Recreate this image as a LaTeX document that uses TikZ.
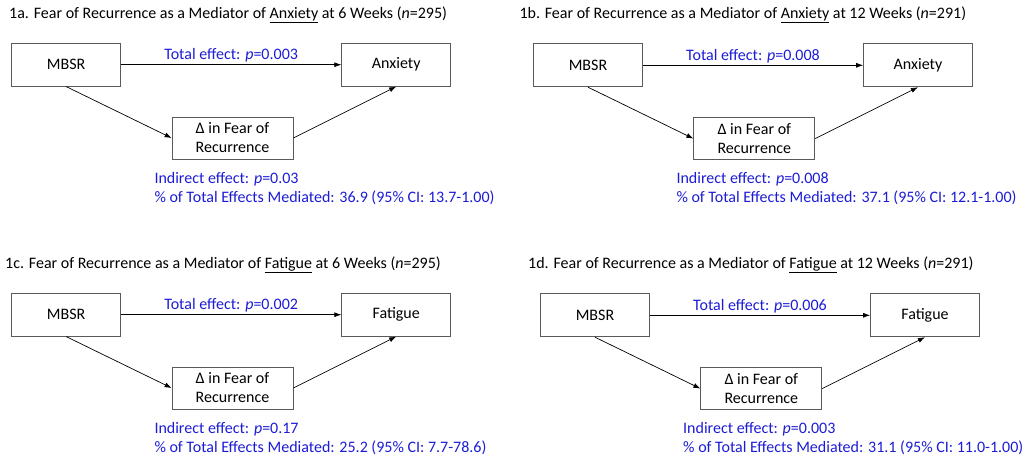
\documentclass[tikz,border=0pt]{standalone}
\usepackage{fontspec}
\setmainfont{Carlito}
\usetikzlibrary{arrows.meta}
\definecolor{effblue}{RGB}{28,28,214}
\definecolor{boxgray}{RGB}{90,90,90}
\tikzset{
  box/.style={draw=boxgray, line width=0.8pt, inner sep=0pt, align=center,
    minimum width=109pt, minimum height=43pt, font=\fontsize{16}{19}\selectfont},
  medbox/.style={box, minimum width=121pt, minimum height=42pt},
  link/.style={line width=0.7pt, -{Latex[length=7pt,width=5pt]}},
  efftext/.style={text=effblue, inner sep=0pt, align=left, font=\fontsize{16}{19}\selectfont},
  headtext/.style={inner sep=0pt, anchor=west, font=\fontsize{16}{19}\selectfont}
}
% one mediation diagram: shift x, shift y, prefix, outcome, total p
\newcommand{\drawpanel}[5]{
  \node[box] (#3src) at (#1+66.2, #2+64.7) {MBSR};
  \node[box] (#3out) at (#1+396.2, #2+64.7) {#4};
  \node[medbox] (#3med) at (#1+232.5, #2+138) {Δ in Fear of\\Recurrence};
  \draw[link] (#3src) -- node[efftext, above=2pt] {Total effect: \textit{p}=#5} (#3out);
  \draw[link] (#3src.south) -- (#3med.west);
  \draw[link] (#3med.east) -- (#3out.south);
}
\newcommand{\drawnote}[5]{
  \node[efftext, anchor=west] (#3) at (#1, #2) {Indirect effect: \textit{p}=#4\\\% of Total Effects Mediated: #5};
}

\begin{document}
\begin{tikzpicture}[x=1pt, y=-1pt]
  \useasboundingbox (0,0) rectangle (1025,460);

  \node[headtext] (atitle) at (9,15) {1a. Fear of Recurrence as a Mediator of \underline{Anxiety} at 6 Weeks (\textit{n}=295)};
  \drawpanel{0}{0}{a}{Anxiety}{0.003}
  \drawnote{154.3}{188.5}{anote}{0.03}{36.9 (95\% CI: 13.7-1.00)}

  \node[headtext] (btitle) at (519.3,15) {1b. Fear of Recurrence as a Mediator of \underline{Anxiety} at 12 Weeks (\textit{n}=291)};
  \drawpanel{521.8}{0.6}{b}{Anxiety}{0.008}
  \drawnote{676.3}{188.5}{bnote}{0.008}{37.1 (95\% CI: 12.1-1.00)}

  \node[headtext] (ctitle) at (5,265) {1c. Fear of Recurrence as a Mediator of \underline{Fatigue} at 6 Weeks (\textit{n}=295)};
  \drawpanel{0}{250}{c}{Fatigue}{0.002}
  \drawnote{154.3}{438.5}{cnote}{0.17}{25.2 (95\% CI: 7.7-78.6)}

  \node[headtext] (dtitle) at (528,265) {1d. Fear of Recurrence as a Mediator of \underline{Fatigue} at 12 Weeks (\textit{n}=291)};
  \drawpanel{528.8}{250.6}{d}{Fatigue}{0.006}
  \drawnote{683}{438.5}{dnote}{0.003}{31.1 (95\% CI: 11.0-1.00)}
\end{tikzpicture}
\end{document}
